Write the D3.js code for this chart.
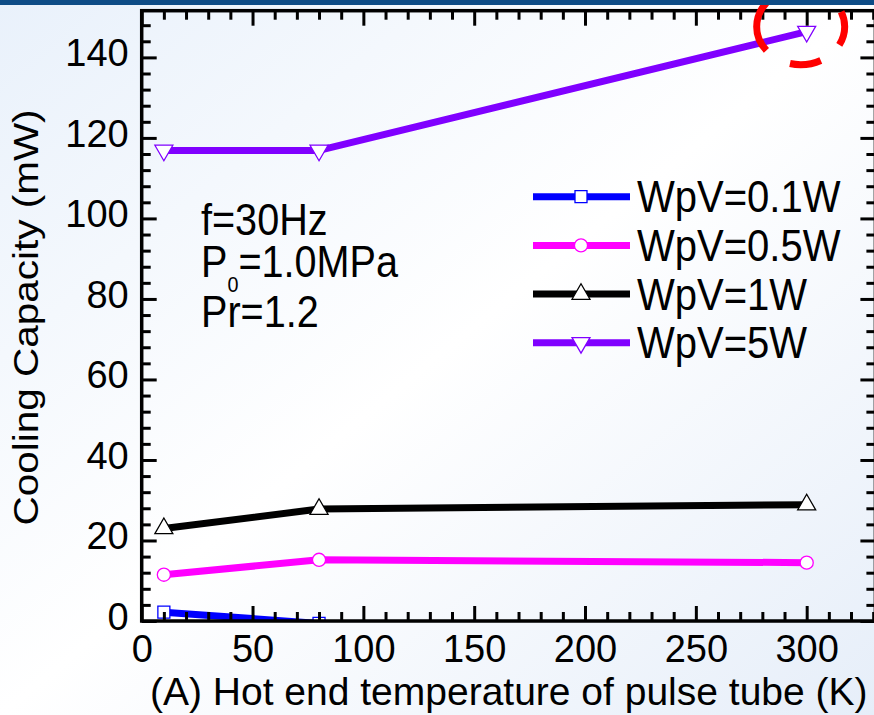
<!DOCTYPE html>
<html>
<head>
<meta charset="utf-8">
<script src="https://cdn.jsdelivr.net/npm/d3@7"></script>
<style>
  body { margin: 0; background: #fff; }
  text { font-family: "Liberation Sans", Arial, sans-serif; fill: #000; }
</style>
</head>
<body>
<div class="chart"></div>
<script>
// data
const temps = [10, 80, 300];
const wpv01 = [2.2, -0.6, -2.5];
const wpv05 = [11.5, 15.2, 14.5];
const wpv1 = [23.0, 27.8, 28.9];
const wpv5 = [116.9, 116.9, 146.4];

const seriesNames = ["WpV=0.1W", "WpV=0.5W", "WpV=1W", "WpV=5W"];
const seriesColors = ["#0000ff", "#ff00ff", "#000000", "#8000ff"];
const seriesSymbols = ["square", "circle", "triangle", "triangleDown"];

const xTicks = [0, 50, 100, 150, 200, 250, 300];
const yTicks = [0, 20, 40, 60, 80, 100, 120, 140];

const notes = ["f=30Hz", "P0=1.0MPa", "Pr=1.2"];

const W = 874, H = 715;
const margin = ({top: 10.7, right: 874 - 875.4, bottom: 715 - 621, left: 141.7});
const width = W - margin.left - margin.right,
      height = H - margin.top - margin.bottom;

const svg = d3.select(".chart").append("svg")
    .attr("width", W)
    .attr("height", H);

// background
const defs = svg.append("defs");
const grad = defs.append("linearGradient")
    .attr("id", "bg")
    .attr("x1", 0).attr("y1", 0).attr("x2", 1).attr("y2", 1);
grad.append("stop").attr("offset", 0).attr("stop-color", "#e9f1fb");
grad.append("stop").attr("offset", 0.5).attr("stop-color", "#ffffff");
grad.append("stop").attr("offset", 1).attr("stop-color", "#e6eef9");
svg.append("rect").attr("width", W).attr("height", H).attr("fill", "url(#bg)");

defs.append("clipPath").attr("id", "plotclip")
  .append("rect").attr("width", width).attr("height", height);

const g = svg.append("g")
    .attr("transform", `translate(${margin.left},${margin.top})`);

const xScale = d3.scaleLinear().domain([0, 331]).range([0, width]);
const yScale = d3.scaleLinear().domain([0, 151.6]).range([height, 0]);

const series = [wpv01, wpv05, wpv1, wpv5].map((vals, i) => ({
  name: seriesNames[i],
  color: seriesColors[i],
  symbol: seriesSymbols[i],
  values: temps.map((t, j) => ({x: t, y: vals[j]}))
}));

const symbolPath = s => {
  if (s === "square") return d3.symbol(d3.symbolSquare, 144)();
  if (s === "circle") return d3.symbol(d3.symbolCircle, 135)();
  return d3.symbol(d3.symbolTriangle, 140)();
};
const symbolRot = s => s === "triangleDown" ? " rotate(180)" : "";

const line = d3.line().x(d => xScale(d.x)).y(d => yScale(d.y));

const plot = g.append("g").attr("clip-path", "url(#plotclip)");

plot.selectAll(".series")
  .data(series)
  .enter()
  .append("path")
    .attr("class", "series")
    .attr("d", d => line(d.values))
    .attr("fill", "none")
    .attr("stroke", d => d.color)
    .attr("stroke-width", 7)
    .attr("stroke-linejoin", "round");

series.forEach(s => {
  plot.selectAll(null)
    .data(s.values)
    .enter()
    .append("path")
      .attr("d", symbolPath(s.symbol))
      .attr("transform", d => `translate(${xScale(d.x)},${yScale(d.y)})` + symbolRot(s.symbol))
      .attr("fill", "#fff")
      .attr("stroke", s.color)
      .attr("stroke-width", 1.3);
});

// axes, ticks pointing inward on all four sides
const minorX = d3.range(0, 331, 10).filter(v => v % 50 !== 0);
const minorY = d3.range(0, 152, 4).filter(v => v % 20 !== 0);

function styleAxis(sel) {
  sel.select(".domain").remove();
  sel.selectAll(".tick line").attr("stroke", "#000").attr("stroke-width", 3);
  sel.selectAll(".tick text")
    .style("font-family", '"Liberation Sans", Arial, sans-serif')
    .style("font-size", "38px")
    .attr("fill", "#000");
}

g.append("g")
  .attr("transform", `translate(0,${height})`)
  .call(d3.axisBottom(xScale).tickValues(xTicks).tickSizeInner(-15).tickSizeOuter(0).tickPadding(14))
  .call(styleAxis);
g.append("g")
  .attr("transform", `translate(0,${height})`)
  .call(d3.axisBottom(xScale).tickValues(minorX).tickSizeInner(-9).tickSizeOuter(0).tickFormat(""))
  .call(styleAxis);
g.append("g")
  .call(d3.axisTop(xScale).tickValues(xTicks).tickSizeInner(-15).tickSizeOuter(0).tickFormat(""))
  .call(styleAxis);
g.append("g")
  .call(d3.axisTop(xScale).tickValues(minorX).tickSizeInner(-9).tickSizeOuter(0).tickFormat(""))
  .call(styleAxis);

g.append("g")
  .call(d3.axisLeft(yScale).tickValues(yTicks).tickSizeInner(-15).tickSizeOuter(0).tickPadding(13))
  .call(styleAxis)
  .selectAll(".tick text").attr("dy", "0.22em");
g.append("g")
  .call(d3.axisLeft(yScale).tickValues(minorY).tickSizeInner(-9).tickSizeOuter(0).tickFormat(""))
  .call(styleAxis);
g.append("g")
  .attr("transform", `translate(${width},0)`)
  .call(d3.axisRight(yScale).tickValues(yTicks).tickSizeInner(-15).tickSizeOuter(0).tickFormat(""))
  .call(styleAxis);
g.append("g")
  .attr("transform", `translate(${width},0)`)
  .call(d3.axisRight(yScale).tickValues(minorY).tickSizeInner(-9).tickSizeOuter(0).tickFormat(""))
  .call(styleAxis);

g.append("rect")
  .attr("width", width)
  .attr("height", height)
  .attr("fill", "none")
  .attr("stroke", "#000")
  .attr("stroke-width", 3.5);

// axis titles
svg.append("text")
  .attr("x", 150)
  .attr("y", 705)
  .style("font-size", "39px")
  .text("(A) Hot end temperature of pulse tube (K)");

svg.append("text")
  .attr("transform", "translate(38,317.5) rotate(-90) scale(1,0.87)")
  .attr("text-anchor", "middle")
  .style("font-size", "40.5px")
  .text("Cooling Capacity (mW)");

// legend
const legend = svg.selectAll(".legend")
  .data(series)
  .enter()
  .append("g")
  .attr("class", "legend")
  .attr("transform", (d, i) => `translate(533,${196.7 + i * 48.7})`);

legend.append("line")
  .attr("x1", 0).attr("x2", 97)
  .attr("stroke", d => d.color)
  .attr("stroke-width", 7);

legend.append("path")
  .attr("d", d => symbolPath(d.symbol))
  .attr("transform", d => "translate(48,0)" + symbolRot(d.symbol))
  .attr("fill", "#fff")
  .attr("stroke", d => d.color)
  .attr("stroke-width", 1.3);

legend.append("text")
  .attr("transform", "translate(104,15.5) scale(0.91,1)")
  .style("font-size", "44px")
  .text(d => d.name);

// condition notes, one text block
const noteDy = [0, 42, 50];
const noteText = svg.append("text")
  .attr("transform", "translate(201,235) scale(0.9,1)")
  .style("font-size", "44px");
notes.forEach((t, i) => {
  if (t.startsWith("P0")) {
    noteText.append("tspan").attr("x", 0).attr("dy", noteDy[i]).text("P");
    noteText.append("tspan").attr("dy", 15).style("font-size", "22px").text("0");
    noteText.append("tspan").attr("dy", -15).text(t.slice(2));
  } else {
    noteText.append("tspan").attr("x", 0).attr("dy", noteDy[i]).text(t);
  }
});

// dashed red ring around the last WpV=5W point
const px = margin.left + xScale(temps[2]), py = margin.top + yScale(wpv5[2]);
svg.append("ellipse")
  .attr("cx", px - 6)
  .attr("cy", py - 5)
  .attr("rx", 44)
  .attr("ry", 38)
  .attr("fill", "none")
  .attr("stroke", "#ff0000")
  .attr("stroke-width", 7)
  .attr("stroke-dasharray", "19.3,24.4,31.5,27.2,65.9,73.8,15.8,0");

// header bar over the ring
svg.append("rect").attr("width", W).attr("height", 5).attr("fill", "#0e4c86");
</script>
</body>
</html>
